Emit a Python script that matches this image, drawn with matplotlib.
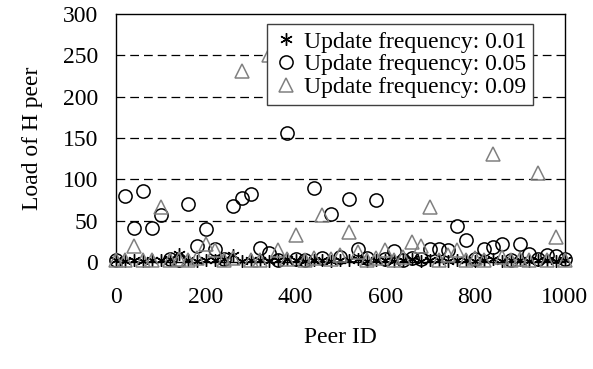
import matplotlib
matplotlib.use("Agg")
import matplotlib.pyplot as plt
import numpy as np

peer_ids = list(range(0, 1001, 20))

load_f001 = [3, 1, 2, 1, 3, 2, 4, 10, 2, 1, 3, 2, 4, 8, 1, 2, 3, 1, 2, 4,
             2, 1, 3, 2, 1, 3, 2, 4, 1, 2, 3, 1, 2, 4, 1, 2, 3, 1, 2, 3,
             1, 2, 4, 1, 3, 2, 1, 3, 2, 1, 2]
load_f005 = [3, 80, 41, 86, 41, 57, 4, 3, 70, 19, 40, 16, 4, 68, 78, 82, 17, 11, 3, 156,
             4, 2, 90, 5, 58, 6, 76, 16, 5, 75, 4, 13, 3, 5, 4, 16, 16, 15, 43, 26,
             4, 16, 18, 22, 3, 22, 10, 4, 8, 7, 4]
load_f009 = [2, 3, 19, 2, 3, 67, 2, 4, 3, 5, 22, 14, 3, 5, 231, 3, 2, 250, 15, 4,
             33, 3, 5, 57, 4, 8, 36, 12, 3, 5, 14, 3, 6, 24, 19, 67, 3, 8, 15, 3,
             5, 3, 131, 6, 3, 4, 3, 108, 3, 30, 3]

labels = ["Update frequency: 0.01", "Update frequency: 0.05", "Update frequency: 0.09"]
yticks = [0, 50, 100, 150, 200, 250, 300]
xticks = [0, 200, 400, 600, 800, 1000]

plt.rcParams['font.family'] = ['Liberation Serif', 'DejaVu Serif']

fig = plt.figure(figsize=(5.93, 3.69), dpi=100)
ax = fig.add_axes([0.1956, 0.29, 0.757, 0.672])

ax.plot(peer_ids, load_f001, linestyle='none', marker=(6, 2, 0), markersize=9,
        markeredgecolor='black', markerfacecolor='none', markeredgewidth=1.0,
        label=labels[0], clip_on=False, zorder=3)
ax.plot(peer_ids, load_f005, linestyle='none', marker='o', markersize=9.5,
        markeredgecolor='black', markerfacecolor='none', markeredgewidth=1.1,
        label=labels[1], clip_on=False, zorder=3)
ax.plot(peer_ids, load_f009, linestyle='none', marker='^', markersize=10,
        markeredgecolor='#808080', markerfacecolor='none', markeredgewidth=1.1,
        label=labels[2], clip_on=False, zorder=3)

ax.set_xlim(0, 1000)
ax.set_ylim(0, 300)
ax.set_xticks(xticks)
ax.set_yticks(yticks)
ax.tick_params(axis='y', labelsize=17, length=0, pad=13)
ax.tick_params(axis='x', labelsize=17, length=0, pad=18)
for y in yticks[1:-1]:
    ax.axhline(y, color='black', linestyle=(0, (7, 4)), linewidth=0.9, zorder=1)

for s in ax.spines.values():
    s.set_linewidth(1.0)
    s.set_color('black')

ax.set_ylabel("Load of H peer", fontsize=17, labelpad=14)
ax.set_xlabel("Peer ID", fontsize=17, labelpad=14)

leg = ax.legend(loc='upper right', bbox_to_anchor=(0.929, 0.96), fontsize=17,
                frameon=True, fancybox=False, borderpad=0.3, handletextpad=0.25,
                labelspacing=0.05, handlelength=1.0, borderaxespad=0)
leg.get_frame().set_edgecolor('#404040')
leg.get_frame().set_linewidth(1.0)
leg.get_frame().set_alpha(1)

fig.savefig("out.png", dpi=100)
